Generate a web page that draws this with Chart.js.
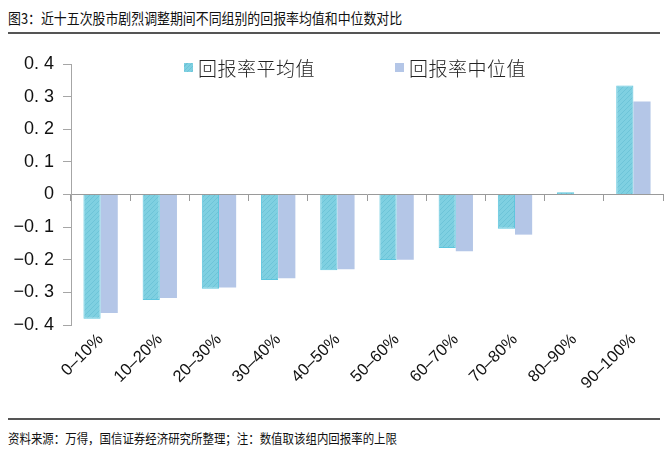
<!DOCTYPE html>
<html>
<head>
<meta charset="utf-8">
<script src="https://cdn.jsdelivr.net/npm/chart.js@4.4.0/dist/chart.umd.min.js"></script>
<style>
  html, body { margin: 0; padding: 0; background: #fff; }
  body { width: 666px; height: 452px; position: relative; overflow: hidden; font-family: "Noto Sans CJK SC", sans-serif; }
  #title { position: absolute; left: 8px; top: 9px; font-size: 15px; color: #111; white-space: nowrap; transform: scaleX(0.86); transform-origin: left top; line-height: 18px; }
  #topline { position: absolute; left: 8px; top: 32px; width: 652px; height: 2px; background: #555; }
  #botline { position: absolute; left: 8px; top: 418px; width: 652px; height: 2px; background: #555; }
  #note { position: absolute; left: 8px; top: 429px; font-size: 13px; color: #111; white-space: nowrap; transform: scaleX(0.88); transform-origin: left top; line-height: 17px; }
  #wrap { position: absolute; left: 0; top: 40px; width: 666px; height: 372px; }
  .leg { position: absolute; top: 55px; height: 24px; display: flex; align-items: center; font-size: 19px; color: #222; white-space: nowrap; font-weight: 300; letter-spacing: 0.5px; }
  .sw { width: 9px; height: 9px; margin-right: 5px; }
</style>
</head>
<body>
<div id="title">图3：近十五次股市剧烈调整期间不同组别的回报率均值和中位数对比</div>
<div id="topline"></div>
<div id="wrap"><canvas id="c"></canvas></div>
<div id="legend"></div>
<div id="botline"></div>
<div id="note">资料来源：万得，国信证券经济研究所整理；注：数值取该组内回报率的上限</div>
<script>
const categories = ['0–10%', '10–20%', '20–30%', '30–40%', '40–50%', '50–60%', '60–70%', '70–80%', '80–90%', '90–100%'];
const seriesNames = ['回报率平均值', '回报率中位值'];
const meanReturns = [-0.381, -0.323, -0.289, -0.262, -0.232, -0.201, -0.164, -0.105, 0.007, 0.334];
const medianReturns = [-0.363, -0.317, -0.285, -0.257, -0.229, -0.200, -0.174, -0.123, 0.000, 0.285];
const yTickLabels = ['−0. 4', '−0. 3', '−0. 2', '−0. 1', '0', '0. 1', '0. 2', '0. 3', '0. 4'];

function hatch() {
  const p = document.createElement('canvas');
  p.width = 5; p.height = 5;
  const g = p.getContext('2d');
  g.fillStyle = '#7fd0e1';
  g.fillRect(0, 0, 5, 5);
  g.strokeStyle = '#6dc4d8';
  g.lineWidth = 1;
  g.beginPath();
  g.moveTo(-1, 6); g.lineTo(6, -1);
  g.moveTo(-1, 1); g.lineTo(1, -1);
  g.moveTo(4, 6); g.lineTo(6, 4);
  g.stroke();
  return g.createPattern(p, 'repeat');
}
const ctx = document.getElementById('c').getContext('2d');
const meanFill = hatch();

// HTML legend from series names
const legendItems = [
  { left: 184, name: seriesNames[0], bg: 'repeating-linear-gradient(135deg, #7fd0e1 0 2px, #6dc4d8 2px 3px)' },
  { left: 395, name: seriesNames[1], bg: '#b4c6e7' }
];
const legendEl = document.getElementById('legend');
legendItems.forEach(it => {
  const d = document.createElement('div');
  d.className = 'leg';
  d.style.left = it.left + 'px';
  const s = document.createElement('span');
  s.className = 'sw';
  s.style.background = it.bg;
  const t = document.createElement('span');
  t.textContent = it.name;
  d.appendChild(s); d.appendChild(t);
  legendEl.appendChild(d);
});

new Chart(ctx, {
  type: 'bar',
  data: {
    labels: categories,
    datasets: [
      { label: seriesNames[0], data: meanReturns, backgroundColor: meanFill, borderColor: '#5fc6de', borderWidth: 1, xAxisID: 'x', categoryPercentage: 0.58, barPercentage: 1.0 },
      { label: seriesNames[1], data: medianReturns, backgroundColor: '#b4c6e7', borderColor: '#b4c6e7', borderWidth: 0, xAxisID: 'x', categoryPercentage: 0.58, barPercentage: 1.0 }
    ]
  },
  options: {
    responsive: true,
    maintainAspectRatio: false,
    animation: false,
    layout: { padding: { left: 0, right: 3, top: 24, bottom: 0 } },
    plugins: { legend: { display: false }, tooltip: { enabled: false } },
    scales: {
      x: {
        type: 'category',
        position: 'bottom',
        offset: true,
        border: { display: false },
        grid: { display: false, drawTicks: false },
        ticks: { maxRotation: 45, minRotation: 45, padding: 5, color: '#111', font: { family: 'Liberation Sans, Arial, sans-serif', size: 16.5 } },
        afterFit: s => { s.height = 87; }
      },
      x2: {
        type: 'category',
        labels: categories,
        position: { y: 0 },
        offset: true,
        border: { display: true, color: '#9a9a9a', width: 1 },
        grid: { offset: true, drawOnChartArea: false, drawTicks: true, tickLength: 6, color: '#9a9a9a' },
        ticks: { display: false }
      },
      y: {
        min: -0.4,
        max: 0.4,
        border: { display: true, color: '#a6a6a6', width: 1 },
        grid: { drawOnChartArea: false, drawTicks: true, tickLength: 8, color: '#a6a6a6' },
        ticks: {
          stepSize: 0.1,
          padding: 9,
          color: '#111',
          font: { family: 'Liberation Sans, Arial, sans-serif', size: 18 },
          callback: (v, i) => yTickLabels[i]
        },
        afterFit: s => { s.width = 71; }
      }
    }
  }
});
</script>
</body>
</html>
